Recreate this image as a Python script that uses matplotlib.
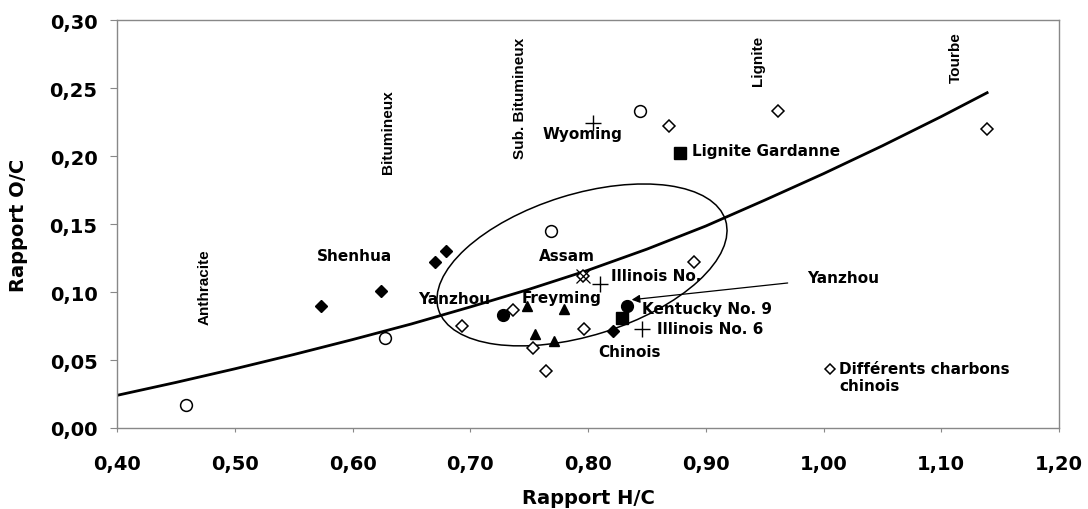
"""Rapport O/C vs H/C (van Krevelen style) with coal rank labels."""

import numpy as np
import matplotlib
matplotlib.use("Agg")
import matplotlib.pyplot as plt
from matplotlib.patches import Ellipse
from matplotlib.lines import Line2D
from matplotlib.transforms import Affine2D

# --- data ---
open_circle_hc = [0.459, 0.628, 0.769, 0.844]
open_circle_oc = [0.017, 0.066, 0.145, 0.233]

open_diamond_hc = [0.961, 0.869, 1.139, 0.890, 0.693, 0.736, 0.797, 0.753, 0.764, 0.796]
open_diamond_oc = [0.233, 0.222, 0.220, 0.122, 0.075, 0.087, 0.073, 0.059, 0.042, 0.1115]

filled_diamond_hc = [0.573, 0.624, 0.670, 0.679, 0.821]
filled_diamond_oc = [0.090, 0.101, 0.122, 0.130, 0.071]

filled_circle_hc = [0.728, 0.833]
filled_circle_oc = [0.083, 0.090]

triangle_hc = [0.748, 0.780, 0.755, 0.771]
triangle_oc = [0.090, 0.0875, 0.069, 0.064]

square_hc = [0.878, 0.829]
square_oc = [0.202, 0.081]

plus_hc = [0.8045, 0.810, 0.846]
plus_oc = [0.224, 0.106, 0.073]

cross_hc = [0.796]
cross_oc = [0.1115]

# trend curve (read every 0.05 of H/C)
curve_hc = [0.40, 0.45, 0.50, 0.55, 0.60, 0.65, 0.70, 0.75, 0.80, 0.85,
            0.90, 0.95, 1.00, 1.05, 1.10, 1.14]
curve_oc = [0.024, 0.0335, 0.0435, 0.054, 0.065, 0.0765, 0.089, 0.102, 0.116, 0.1315,
            0.1485, 0.1675, 0.187, 0.2075, 0.229, 0.247]

# rank labels (vertical)
rank_names = ["Anthracite", "Bitumineux", "Sub. Bitumineux", "Lignite", "Tourbe"]
rank_hc = [0.474, 0.630, 0.742, 0.944, 1.112]
rank_oc = [0.104, 0.218, 0.243, 0.271, 0.273]

# sample labels (left edge, centre)
sample_names = ["Shenhua", "Yanzhou", "Freyming", "Assam", "Illinois No.",
                "Kentucky No. 9", "Illinois No. 6", "Chinois", "Wyoming",
                "Lignite Gardanne"]
sample_hc = [0.570, 0.6556, 0.744, 0.758, 0.8195, 0.846, 0.8586, 0.8085, 0.761, 0.8883]
sample_oc = [0.1265, 0.0949, 0.0963, 0.1265, 0.1118, 0.0882, 0.0735, 0.0566, 0.2162, 0.2044]

xticks = [0.40, 0.50, 0.60, 0.70, 0.80, 0.90, 1.00, 1.10, 1.20]
yticks = [0.00, 0.05, 0.10, 0.15, 0.20, 0.25, 0.30]

plt.rcParams["font.family"] = ["DejaVu Sans"]
plt.rcParams["font.weight"] = "bold"

fig = plt.figure(figsize=(10.88, 5.10), dpi=100)
ax = fig.add_axes([117 / 1088, 81 / 510, 942 / 1088, 408 / 510])
ax.set_xlim(0.40, 1.20)
ax.set_ylim(0.0, 0.30)

ax.plot(curve_hc, curve_oc, color="black", lw=2.0, solid_capstyle="butt",
        solid_joinstyle="round", zorder=2)

# ellipse drawn in reference pixel units, mapped back to data
px = Affine2D().scale(0.8 / 942, 0.3 / 408).translate(0.7949, 0.1199)
ax.add_patch(Ellipse((0, 0), 2 * 150.3, 2 * 70.7, angle=17.3, fill=False,
                     edgecolor="black", lw=1.1, transform=px + ax.transData, zorder=2))

mk = dict(linestyle="none", color="black", zorder=3)
ax.plot(open_circle_hc, open_circle_oc, marker="o", ms=8.5, mfc="white", mew=1.1, **mk)
ax.plot(open_diamond_hc, open_diamond_oc, marker="D", ms=6.3, mfc="white", mew=1.1, **mk)
ax.plot(filled_diamond_hc, filled_diamond_oc, marker="D", ms=6.3, **mk)
ax.plot(filled_circle_hc, filled_circle_oc, marker="o", ms=8.5, **mk)
ax.plot(triangle_hc, triangle_oc, marker="^", ms=7.2, **mk)
ax.plot(square_hc, square_oc, marker="s", ms=8.0, **mk)
ax.plot(plus_hc, plus_oc, marker="+", ms=11, mew=1.0, **mk)
ax.plot(cross_hc, cross_oc, marker="x", ms=10, mew=0.9, **mk)

for name, x, y in zip(rank_names, rank_hc, rank_oc):
    ax.text(x, y, name, rotation=90, ha="center", va="center", fontsize=11,
            family=["Liberation Sans", "DejaVu Sans"], fontweight="bold")

for name, x, y in zip(sample_names, sample_hc, sample_oc):
    ax.text(x, y, name, ha="left", va="center", fontsize=11, fontweight="bold")

ax.annotate("Yanzhou", xy=(0.8371, 0.0943), xytext=(0.986, 0.111),
            ha="left", va="center", fontsize=11, fontweight="bold",
            arrowprops=dict(arrowstyle="-|>", color="black", lw=0.9,
                            mutation_scale=12, shrinkA=12, shrinkB=0))

key = Line2D([], [], marker="D", ms=5.5, mfc="white", mec="black", mew=1.1, linestyle="none")
leg = ax.legend([key], ["Différents charbons\nchinois"], loc="center left",
                bbox_to_anchor=(0.995, 0.0375), bbox_transform=ax.transData,
                frameon=False, handlelength=0.6, handletextpad=0.3, borderpad=0,
                prop=dict(size=11, weight="bold"))
# put the key next to the first line of the label
leg.legend_handles[0].set_transform(
    Affine2D().translate(0, 6) + leg.legend_handles[0].get_transform())

ax.set_xticks(xticks)
ax.set_yticks(yticks)
ax.set_xticklabels([f"{v:.2f}".replace(".", ",") for v in xticks])
ax.set_yticklabels([f"{v:.2f}".replace(".", ",") for v in yticks])
ax.tick_params(axis="x", direction="out", length=3, width=0.8, color="#888888",
               labelsize=14, pad=16)
ax.tick_params(axis="y", direction="out", length=5, width=0.8, color="#888888",
               labelsize=14, pad=9)
for s in ax.spines.values():
    s.set_color("#888888")
    s.set_linewidth(1.0)

ax.set_xlabel("Rapport H/C", fontsize=14, fontweight="bold")
ax.set_ylabel("Rapport O/C", fontsize=14, fontweight="bold")
ax.xaxis.set_label_coords(0.5, -0.146)
ax.yaxis.set_label_coords(-0.094, 0.5)

fig.savefig("out.png", dpi=100)
